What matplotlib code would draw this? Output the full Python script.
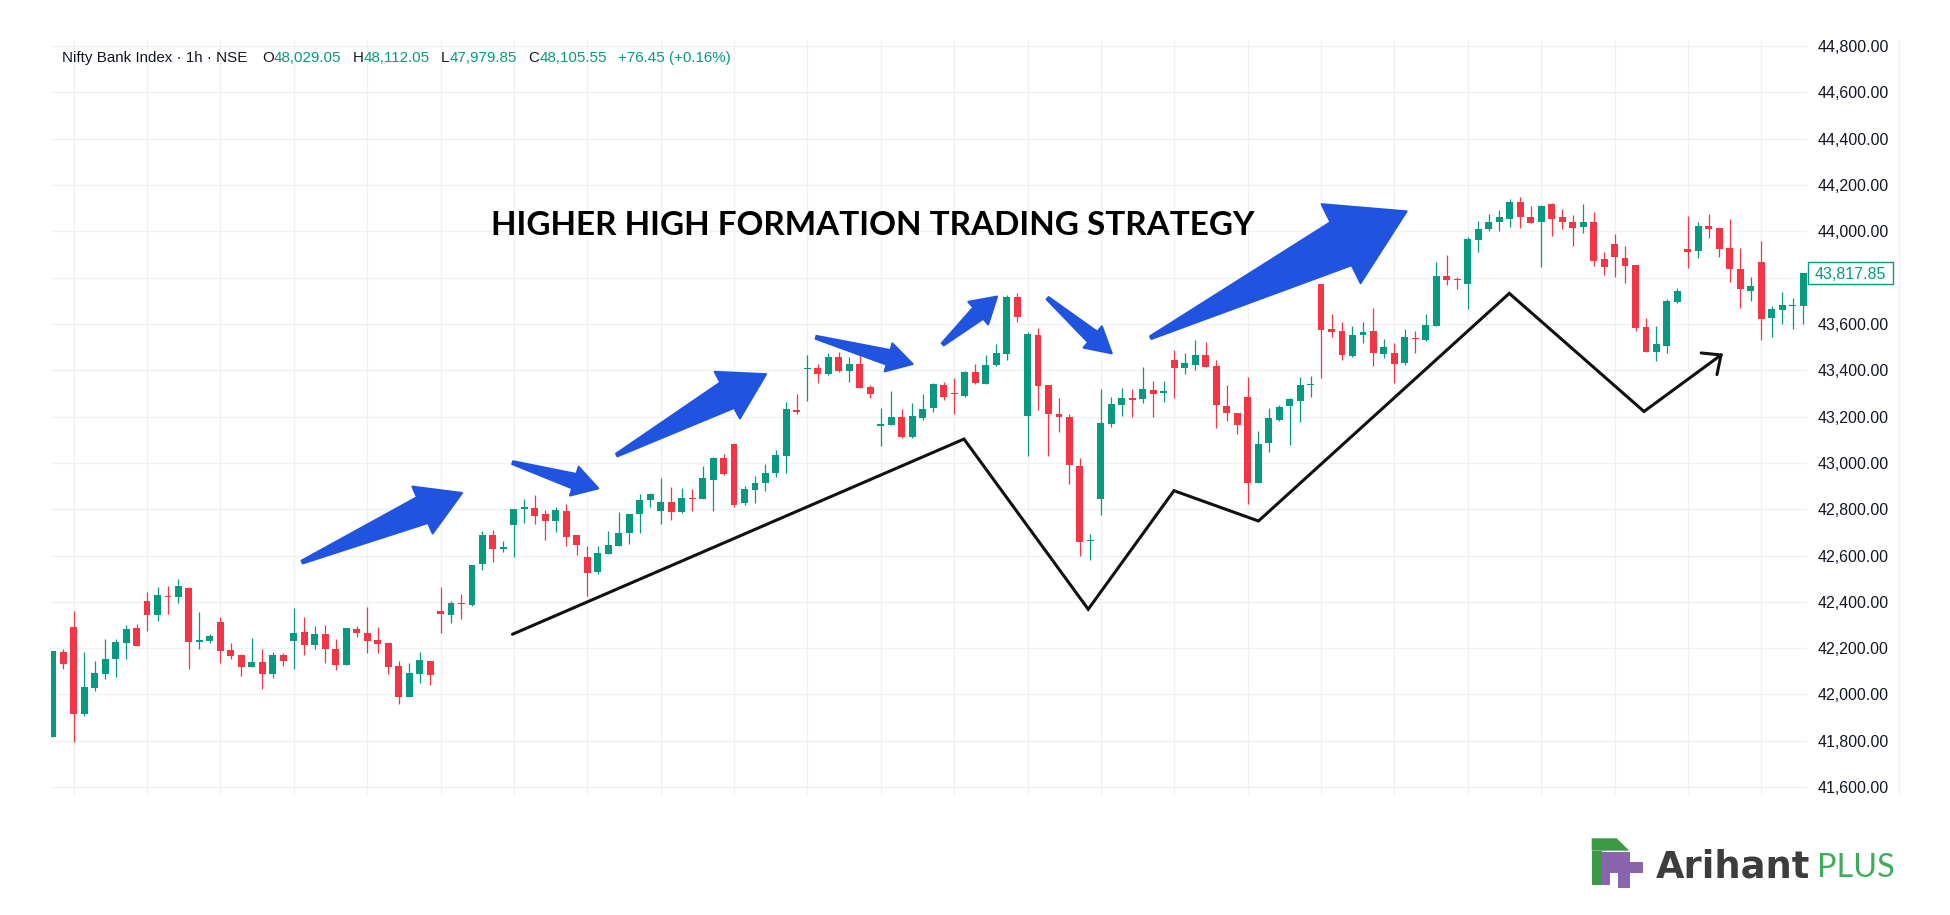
import numpy as np
import matplotlib
matplotlib.use("Agg")
import matplotlib.pyplot as plt
from matplotlib.patches import Polygon, Rectangle
from matplotlib.ticker import FuncFormatter

# hourly OHLC, Nifty Bank Index
opens = [41815, 42185, 42292, 41915, 42030, 42089, 42155, 42224, 42287, 42404,
         42343, 42426, 42423, 42461, 42227, 42230, 42315, 42190, 42171, 42120,
         42139, 42089, 42171, 42233, 42270, 42214, 42262, 42198, 42128, 42283,
         42266, 42235, 42221, 42123, 41987, 42089, 42145, 42359, 42343, 42395,
         42385, 42562, 42689, 42628, 42732, 42800, 42804, 42779, 42751, 42792,
         42689, 42595, 42528, 42605, 42643, 42699, 42781, 42840, 42794, 42831,
         42789, 42850, 42843, 42926, 43020, 43082, 42826, 42883, 42912, 42955,
         43031, 43228, 43404, 43408, 43382, 43457, 43397, 43426, 43328, 43161,
         43164, 43198, 43113, 43195, 43236, 43336, 43302, 43289, 43394, 43339,
         43422, 43469, 43715, 43204, 43552, 43336, 43211, 43198, 42988, 42663,
         42844, 43170, 43250, 43282, 43275, 43315, 43300, 43444, 43411, 43423,
         43466, 43417, 43247, 43217, 43286, 42915, 43085, 43185, 43246, 43269,
         43336, 43771, 43577, 43569, 43463, 43552, 43569, 43469, 43476, 43433,
         43539, 43529, 43593, 43808, 43794, 43771, 43962, 44008, 44039, 44053,
         44128, 44063, 44039, 44116, 44060, 44042, 44017, 44042, 43880, 43944,
         43886, 43855, 43588, 43480, 43505, 43696, 43922, 43915, 44024, 44013,
         43926, 43836, 43744, 43869, 43624, 43660, 43677, 43677]
highs = [42188, 42195, 42359, 42185, 42145, 42238, 42238, 42300, 42305, 42443,
         42463, 42467, 42499, 42466, 42355, 42262, 42336, 42221, 42175, 42243,
         42195, 42184, 42178, 42372, 42333, 42297, 42300, 42240, 42287, 42297,
         42377, 42293, 42221, 42145, 42138, 42185, 42145, 42463, 42405, 42434,
         42559, 42706, 42710, 42663, 42801, 42846, 42861, 42797, 42810, 42824,
         42689, 42641, 42641, 42708, 42788, 42779, 42864, 42872, 42936, 42895,
         42890, 42886, 42988, 43024, 43039, 43082, 42900, 42945, 42994, 43056,
         43264, 43298, 43466, 43426, 43473, 43480, 43457, 43466, 43336, 43239,
         43311, 43233, 43257, 43298, 43344, 43351, 43368, 43397, 43427, 43466,
         43512, 43725, 43735, 43564, 43584, 43336, 43279, 43210, 43020, 42694,
         43319, 43286, 43322, 43319, 43413, 43355, 43355, 43487, 43473, 43529,
         43523, 43443, 43336, 43217, 43372, 43139, 43239, 43250, 43279, 43372,
         43377, 43771, 43641, 43610, 43593, 43610, 43667, 43533, 43519, 43577,
         43569, 43641, 43869, 43898, 43804, 43974, 44046, 44075, 44092, 44139,
         44147, 44109, 44114, 44121, 44096, 44070, 44118, 44082, 43909, 43988,
         43937, 43855, 43624, 43591, 43708, 43757, 44066, 44039, 44075, 44020,
         44052, 43926, 43801, 43958, 43679, 43739, 43714, 43814]
lows = [41815, 42112, 41797, 41909, 42017, 42066, 42074, 42152, 42208, 42272,
        42319, 42346, 42397, 42112, 42195, 42221, 42138, 42155, 42080, 42120,
        42023, 42070, 42125, 42112, 42172, 42195, 42138, 42106, 42128, 42250,
        42181, 42178, 42087, 41958, 41987, 42051, 42041, 42267, 42310, 42325,
        42382, 42538, 42574, 42615, 42595, 42739, 42735, 42667, 42703, 42641,
        42601, 42427, 42520, 42605, 42643, 42651, 42696, 42811, 42735, 42753,
        42782, 42794, 42843, 42794, 42948, 42808, 42820, 42826, 42880, 42941,
        42955, 43210, 43267, 43344, 43380, 43391, 43351, 43322, 43282, 43074,
        43164, 43106, 43106, 43185, 43221, 43272, 43210, 43286, 43342, 43339,
        43420, 43444, 43607, 43031, 43227, 43031, 43135, 42910, 42598, 42580,
        42775, 43157, 43204, 43200, 43257, 43197, 43262, 43279, 43382, 43401,
        43416, 43152, 43182, 43123, 42821, 42915, 43049, 43181, 43077, 43175,
        43286, 43365, 43545, 43444, 43459, 43516, 43418, 43454, 43344, 43423,
        43473, 43526, 43593, 43768, 43749, 43665, 43909, 44003, 44003, 44017,
        44013, 44034, 43847, 43981, 44008, 43937, 43991, 43850, 43811, 43804,
        43775, 43570, 43480, 43442, 43476, 43692, 43843, 43883, 43973, 43888,
        43780, 43670, 43700, 43531, 43545, 43600, 43580, 43600]
closes = [42188, 42132, 41915, 42033, 42092, 42154, 42226, 42283, 42208, 42343,
          42431, 42423, 42467, 42227, 42234, 42251, 42188, 42168, 42120, 42139,
          42089, 42171, 42146, 42266, 42212, 42262, 42195, 42128, 42287, 42267,
          42231, 42217, 42120, 41987, 42092, 42149, 42084, 42348, 42397, 42392,
          42559, 42689, 42628, 42636, 42801, 42810, 42772, 42749, 42795, 42682,
          42646, 42526, 42610, 42646, 42699, 42779, 42840, 42866, 42831, 42789,
          42850, 42846, 42933, 43020, 42952, 42820, 42886, 42912, 42958, 43033,
          43233, 43218, 43410, 43384, 43457, 43395, 43426, 43325, 43299, 43166,
          43198, 43112, 43204, 43233, 43339, 43286, 43298, 43391, 43346, 43423,
          43475, 43718, 43630, 43555, 43331, 43210, 43197, 42991, 42660, 42669,
          43171, 43253, 43282, 43272, 43319, 43299, 43310, 43411, 43430, 43466,
          43416, 43250, 43214, 43164, 42912, 43080, 43193, 43243, 43275, 43336,
          43340, 43574, 43567, 43466, 43552, 43567, 43473, 43502, 43428, 43542,
          43535, 43595, 43808, 43790, 43790, 43965, 44010, 44042, 44060, 44128,
          44063, 44034, 44111, 44053, 44039, 44013, 44042, 43873, 43847, 43888,
          43852, 43584, 43480, 43512, 43699, 43742, 43912, 44024, 44009, 43924,
          43836, 43749, 43765, 43620, 43663, 43682, 43682, 43817.85]

price_ticks = list(range(41600, 44801, 200))
day_starts = list(range(2, 168, 7))   # first bar of every session

header_parts = [("Nifty Bank Index \u00b7 1h \u00b7 NSE", ""),
                ("O", "48,029.05"), ("H", "48,112.05"), ("L", "47,979.85"),
                ("C", "48,105.55"), ("", "+76.45 (+0.16%)")]
title = "HIGHER HIGH FORMATION TRADING STRATEGY"

# drawings on the chart, in (bar index, price)
trend_x = [43.86, 86.94, 98.79, 106.97, 115.03, 138.96, 151.81, 159.16]
trend_y = [42260, 43103, 42368, 42880, 42749, 43732, 43222, 43466]

arrow_tail_x = [23.80, 43.88, 53.81, 72.82, 84.91, 94.92, 104.75]
arrow_tail_y = [42572, 43001, 43034, 43542, 43512, 43711, 43541]
arrow_tip_x = [39.05, 52.05, 68.05, 82.04, 90.09, 101.03, 129.16]
arrow_tip_y = [42870, 42890, 43383, 43427, 43718, 43473, 44086]
arrow_head_w = [51, 30, 53, 29, 30, 28, 88]
arrow_head_l = [43, 25, 44, 25, 25, 25, 73]
arrow_shaft_w = [28, 15, 29, 15, 15, 14, 48]

GREEN = "#089981"
RED = "#f23645"
BLUE = "#2054e0"
TXT = "#131722"
W, H = 1950, 915

fig = plt.figure(figsize=(W / 100, H / 100), dpi=100)
fig.patch.set_facecolor("white")
ax = fig.add_axes([51 / W, 1 - 795 / H, (1807 - 51) / W, (795 - 40) / H])
ax.set_xlim(-0.16, 167.36)
ax.set_ylim(41566, 44826)

o = np.array(opens, float)
h = np.array(highs, float)
l = np.array(lows, float)
c = np.array(closes, float)
idx = np.arange(len(o))
up = c >= o
cols = np.where(up, GREEN, RED)

ax.vlines(idx, l, h, colors=cols, lw=0.9, zorder=2)
body_low = np.minimum(o, c)
body_h = np.maximum(np.abs(c - o), 4)
ax.bar(idx, body_h, bottom=body_low, width=0.66, color=cols, lw=0, zorder=3)

last = closes[-1]


def price_fmt(v, pos):
    # the last-price tag sits over the nearest scale label
    if abs(v - last) < 60:
        return ""
    return f"{v:,.2f}"


ax.set_xticks(day_starts)
ax.set_yticks(price_ticks)
ax.grid(True, color="#f0f1f4", lw=1, zorder=0)
ax.tick_params(axis="x", length=0, labelbottom=False)
ax.yaxis.tick_right()
ax.tick_params(axis="y", length=0, pad=8, labelsize=11.5, labelcolor=TXT)
ax.yaxis.set_major_formatter(FuncFormatter(price_fmt))
for lab in ax.get_yticklabels():
    lab.set_fontfamily(["Liberation Sans", "DejaVu Sans"])
for s in ax.spines.values():
    s.set_visible(False)

# trend zigzag with open arrow head
ax.plot(trend_x, trend_y, color="#111111", lw=2.2, solid_capstyle="round",
        solid_joinstyle="miter", zorder=4)
inv = ax.transData.inverted()
p1 = ax.transData.transform((trend_x[-2], trend_y[-2]))
p2 = ax.transData.transform((trend_x[-1], trend_y[-1]))
d = (p2 - p1) / np.hypot(*(p2 - p1))
for ang in (np.radians(42), -np.radians(42)):
    rot = np.array([[np.cos(ang), -np.sin(ang)], [np.sin(ang), np.cos(ang)]])
    barb = p2 - rot @ d * 20
    seg = inv.transform([barb, p2])
    ax.plot(seg[:, 0], seg[:, 1], color="#111111", lw=2.2,
            solid_capstyle="round", zorder=4)

# blue hand-drawn arrows
for i in range(len(arrow_tail_x)):
    t = ax.transData.transform((arrow_tail_x[i], arrow_tail_y[i]))
    p = ax.transData.transform((arrow_tip_x[i], arrow_tip_y[i]))
    d = (p - t) / np.hypot(*(p - t))
    n = np.array([-d[1], d[0]])
    b = p - d * arrow_head_l[i]
    pts = [t + n * 1.5, b + n * arrow_shaft_w[i] / 2, b + n * arrow_head_w[i] / 2, p,
           b - n * arrow_head_w[i] / 2, b - n * arrow_shaft_w[i] / 2, t - n * 1.5]
    ax.add_patch(Polygon(inv.transform(pts), closed=True, fc=BLUE, ec=BLUE,
                         lw=1.5, joinstyle="round", zorder=6))

# overlay in image pixel coordinates for texts and logo
pax = fig.add_axes([0, 0, 1, 1])
pax.set_xlim(0, W)
pax.set_ylim(H, 0)
pax.axis("off")
pax.patch.set_alpha(0)
rend = fig.canvas.get_renderer()


def fitted(x, y, s, width, **kw):
    t = pax.text(x, y, s, fontsize=10, **kw)
    w = t.get_window_extent(rend).width
    t.set_fontsize(10 * width / w)
    return t


pax.plot([1899, 1899], [40, 795], color="#f0f3fa", lw=1)

# header legend
hfont = ["Liberation Sans", "DejaVu Sans"]
first = fitted(62, 62, header_parts[0][0], 185, family=hfont, color=TXT, va="baseline")
hsize = first.get_fontsize()
x = 261.8
for key, val in header_parts[1:]:
    if key:
        k = pax.text(x, 62, key, fontsize=hsize, family=hfont, color=TXT, va="baseline")
        xv = x + k.get_window_extent(rend).width + 0.5
    else:
        xv = x
    v = pax.text(xv, 62, val, fontsize=hsize, family=hfont, color=GREEN, va="baseline")
    x = xv + v.get_window_extent(rend).width + 11

# title
fitted(491, 235, title, 766, family=["Lato", "DejaVu Sans"], weight="bold",
       color="black", va="baseline")

# last price tag
yl = H - ax.transData.transform((0, last))[1]
pax.add_patch(Rectangle((1808, yl - 11), 85, 22, fc="white", ec=GREEN, lw=1))
pax.text(1850.5, yl, f"{last:,.2f}", fontsize=11.5, family=hfont, color=GREEN,
         ha="center", va="center_baseline")

# logo
LG = "#3c9a47"
LP = "#8a65ad"
pax.add_patch(Polygon([(1591.7, 838.3), (1616.7, 838.3), (1629.3, 850.7), (1591.7, 850.7)],
                      closed=True, fc=LG, ec="none"))
pax.add_patch(Rectangle((1591.7, 850.7), 10, 34.3, fc=LG, ec="none"))
pax.add_patch(Rectangle((1601.7, 851.5), 28.3, 11.5, fc=LP, ec="none"))
pax.add_patch(Rectangle((1601.7, 861.7), 41.6, 11.6, fc=LP, ec="none"))
pax.add_patch(Rectangle((1618.3, 861.7), 11.7, 26.6, fc=LP, ec="none"))
pax.add_patch(Rectangle((1601.7, 861.7), 8.3, 23.3, fc=LP, ec="none"))
fitted(1656, 877.3, "Arihant", 154, family=["DejaVu Sans"], weight="bold",
       color="#3d3d3d", va="baseline")
fitted(1817, 877.3, "PLUS", 77, family=["Lato", "DejaVu Sans"], color="#3cae5a",
       va="baseline")

fig.savefig("out.png", dpi=100, facecolor="white")
